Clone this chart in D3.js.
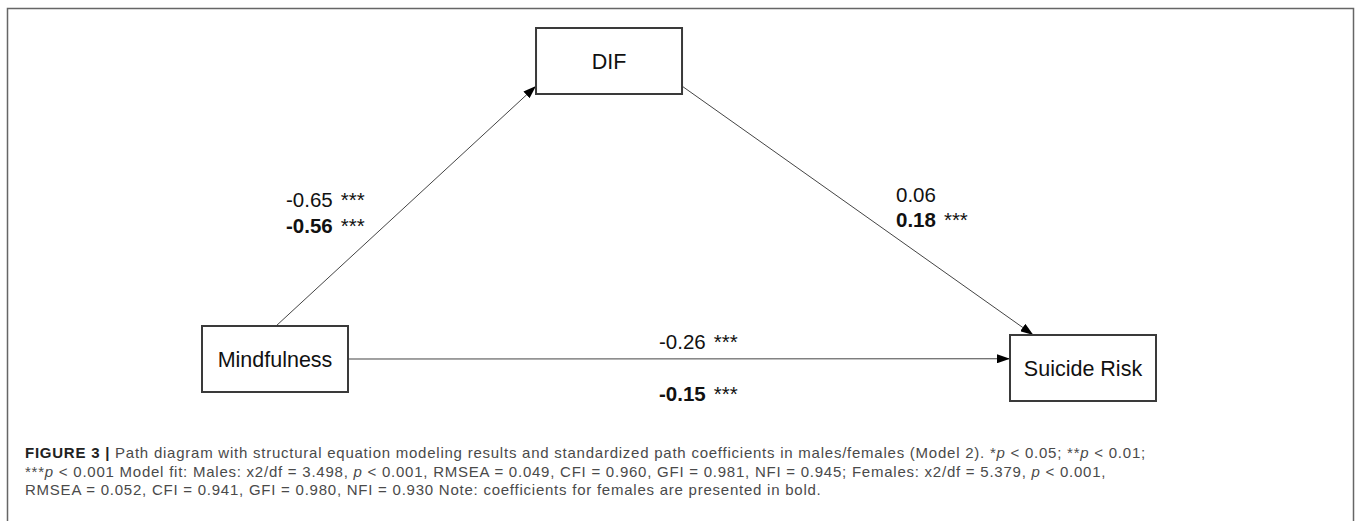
<!DOCTYPE html>
<html>
<head>
<meta charset="utf-8">
<script src="https://cdn.jsdelivr.net/npm/d3@7"></script>
<style>
  html, body { margin: 0; padding: 0; background: #fff; }
  svg { display: block; font-family: "Liberation Sans", Arial, Helvetica, sans-serif; }
</style>
</head>
<body>
<div id="chart"></div>
<script>
// variables in the model
const nodeNames = ["Mindfulness", "DIF", "Suicide Risk"];

// paths (from -> to) with standardized coefficients, males / females
const pathFrom = ["Mindfulness", "DIF", "Mindfulness"];
const pathTo = ["DIF", "Suicide Risk", "Suicide Risk"];
const maleCoef = [-0.65, 0.06, -0.26];
const maleSig = ["***", "", "***"];
const femaleCoef = [-0.56, 0.18, -0.15];
const femaleSig = ["***", "***", "***"];

// caption, split into lines of [text, style] runs
const captionLines = [
  [["FIGURE 3 | ", "b"], ["Path diagram with structural equation modeling results and standardized path coefficients in males/females (Model 2). *", ""], ["p", "i"], [" < 0.05; **", ""], ["p", "i"], [" < 0.01;", ""]],
  [["***", ""], ["p", "i"], [" < 0.001 Model fit: Males: x2/df = 3.498, ", ""], ["p", "i"], [" < 0.001, RMSEA = 0.049, CFI = 0.960, GFI = 0.981, NFI = 0.945; Females: x2/df = 5.379, ", ""], ["p", "i"], [" < 0.001,", ""]],
  [["RMSEA = 0.052, CFI = 0.941, GFI = 0.980, NFI = 0.930 Note: coefficients for females are presented in bold.", ""]]
];

var width = 1360;
var height = 521;

/* layout: node centres in a unit square, mapped through scales */
var layout = {
  "Mindfulness": [0, 1],
  "DIF": [0.4134, 0.0],
  "Suicide Risk": [1, 1.0302]
};
var xScale = d3.scaleLinear().domain([0, 1]).range([275, 1083]);
var yScale = d3.scaleLinear().domain([0, 1]).range([61, 359]);
var boxW = 146, boxH = 66;

// where each path leaves / enters a box: [side, fraction along side]; label x, baselines
var anchors = [
  {start: ["top", 0.507], end: ["left", 0.88], lab: [286, 207, 233]},
  {start: ["right", 0.88], end: ["top", 0.16], lab: [896, 202, 227]},
  {start: ["right", 0.5], end: ["left", 0.36], lab: [659, 349, 401]}
];

var fmt = d3.formatLocale({decimal: ".", thousands: ",", grouping: [3], currency: ["", ""], minus: "-"}).format(".2f");

var svg = d3.select("#chart").append("svg")
  .attr("width", width)
  .attr("height", height);

svg.append("defs").append("marker")
  .attr("id", "arrow")
  .attr("viewBox", "0 0 13 9")
  .attr("refX", 13)
  .attr("refY", 4.5)
  .attr("markerWidth", 13)
  .attr("markerHeight", 9)
  .attr("markerUnits", "userSpaceOnUse")
  .attr("orient", "auto")
  .append("path")
  .attr("d", "M0,0 L13,4.5 L0,9 Z")
  .attr("fill", "#000");

/* outer frame */
svg.append("rect")
  .attr("x", 7.5)
  .attr("y", 8.5)
  .attr("width", 1346)
  .attr("height", 540)
  .attr("fill", "none")
  .attr("stroke", "#666")
  .attr("stroke-width", 1.5);

function box(name) {
  var p = layout[name];
  var cx = xScale(p[0]), cy = yScale(p[1]);
  return {x: cx - boxW / 2, y: cy - boxH / 2, cx: cx, cy: cy};
}

function anchorPoint(name, a) {
  var b = box(name);
  if (a[0] === "top") return [b.x + boxW * a[1], b.y];
  if (a[0] === "bottom") return [b.x + boxW * a[1], b.y + boxH];
  if (a[0] === "left") return [b.x, b.y + boxH * a[1]];
  return [b.x + boxW, b.y + boxH * a[1]];
}

/* paths */
var edges = pathFrom.map((f, i) => ({
  from: f, to: pathTo[i],
  m: fmt(maleCoef[i]), ms: maleSig[i],
  f: fmt(femaleCoef[i]), fs: femaleSig[i],
  a: anchors[i]
}));

svg.append("g").selectAll("line")
  .data(edges).enter()
  .append("line")
  .attr("x1", d => anchorPoint(d.from, d.a.start)[0])
  .attr("y1", d => anchorPoint(d.from, d.a.start)[1])
  .attr("x2", d => anchorPoint(d.to, d.a.end)[0])
  .attr("y2", d => anchorPoint(d.to, d.a.end)[1])
  .attr("stroke", "#444")
  .attr("stroke-width", 1)
  .attr("marker-end", "url(#arrow)");

var labels = svg.append("g").attr("font-size", 20.5).attr("fill", "#111");

function coefText(sel, cls, val, sig, row, bold) {
  var t = sel.selectAll("text." + cls)
    .data(edges).enter()
    .append("text")
    .attr("class", cls)
    .attr("x", d => d.a.lab[0])
    .attr("y", d => d.a.lab[row])
    .attr("font-weight", bold ? "bold" : null);
  t.append("tspan").text(d => d[val]);
  t.append("tspan").attr("dx", 8).attr("font-weight", "normal").text(d => d[sig]);
}
coefText(labels, "m", "m", "ms", 1, false);
coefText(labels, "f", "f", "fs", 2, true);

/* boxes */
var nodes = svg.append("g").selectAll("g")
  .data(nodeNames).enter()
  .append("g");
nodes.append("rect")
  .attr("x", d => box(d).x)
  .attr("y", d => box(d).y)
  .attr("width", boxW)
  .attr("height", boxH)
  .attr("fill", "#fff")
  .attr("stroke", "#3a3a3a")
  .attr("stroke-width", 2);
nodes.append("text")
  .attr("x", d => box(d).cx)
  .attr("y", d => box(d).cy + 8)
  .attr("text-anchor", "middle")
  .attr("font-size", 21.5)
  .attr("fill", "#111")
  .text(d => d);

/* caption */
var cap = svg.append("g").attr("font-size", 15).attr("fill", "#4a4a4a");
var capTexts = captionLines.map(function (runs, i) {
  var t = cap.append("text")
    .attr("x", 25)
    .attr("y", 458 + i * 18.5);
  runs.forEach(function (r) {
    t.append("tspan")
      .attr("font-weight", r[1] === "b" ? "bold" : null)
      .attr("font-style", r[1] === "i" ? "italic" : null)
      .attr("fill", r[1] === "b" ? "#222" : null)
      .text(r[0]);
  });
  return t;
});
// spread the caption to the width of its first line in the figure
var first = capTexts[0].node();
var nChars = first.textContent.length;
var ls = (1121 - first.getComputedTextLength()) / nChars;
cap.attr("letter-spacing", ls.toFixed(2));
</script>
</body>
</html>
